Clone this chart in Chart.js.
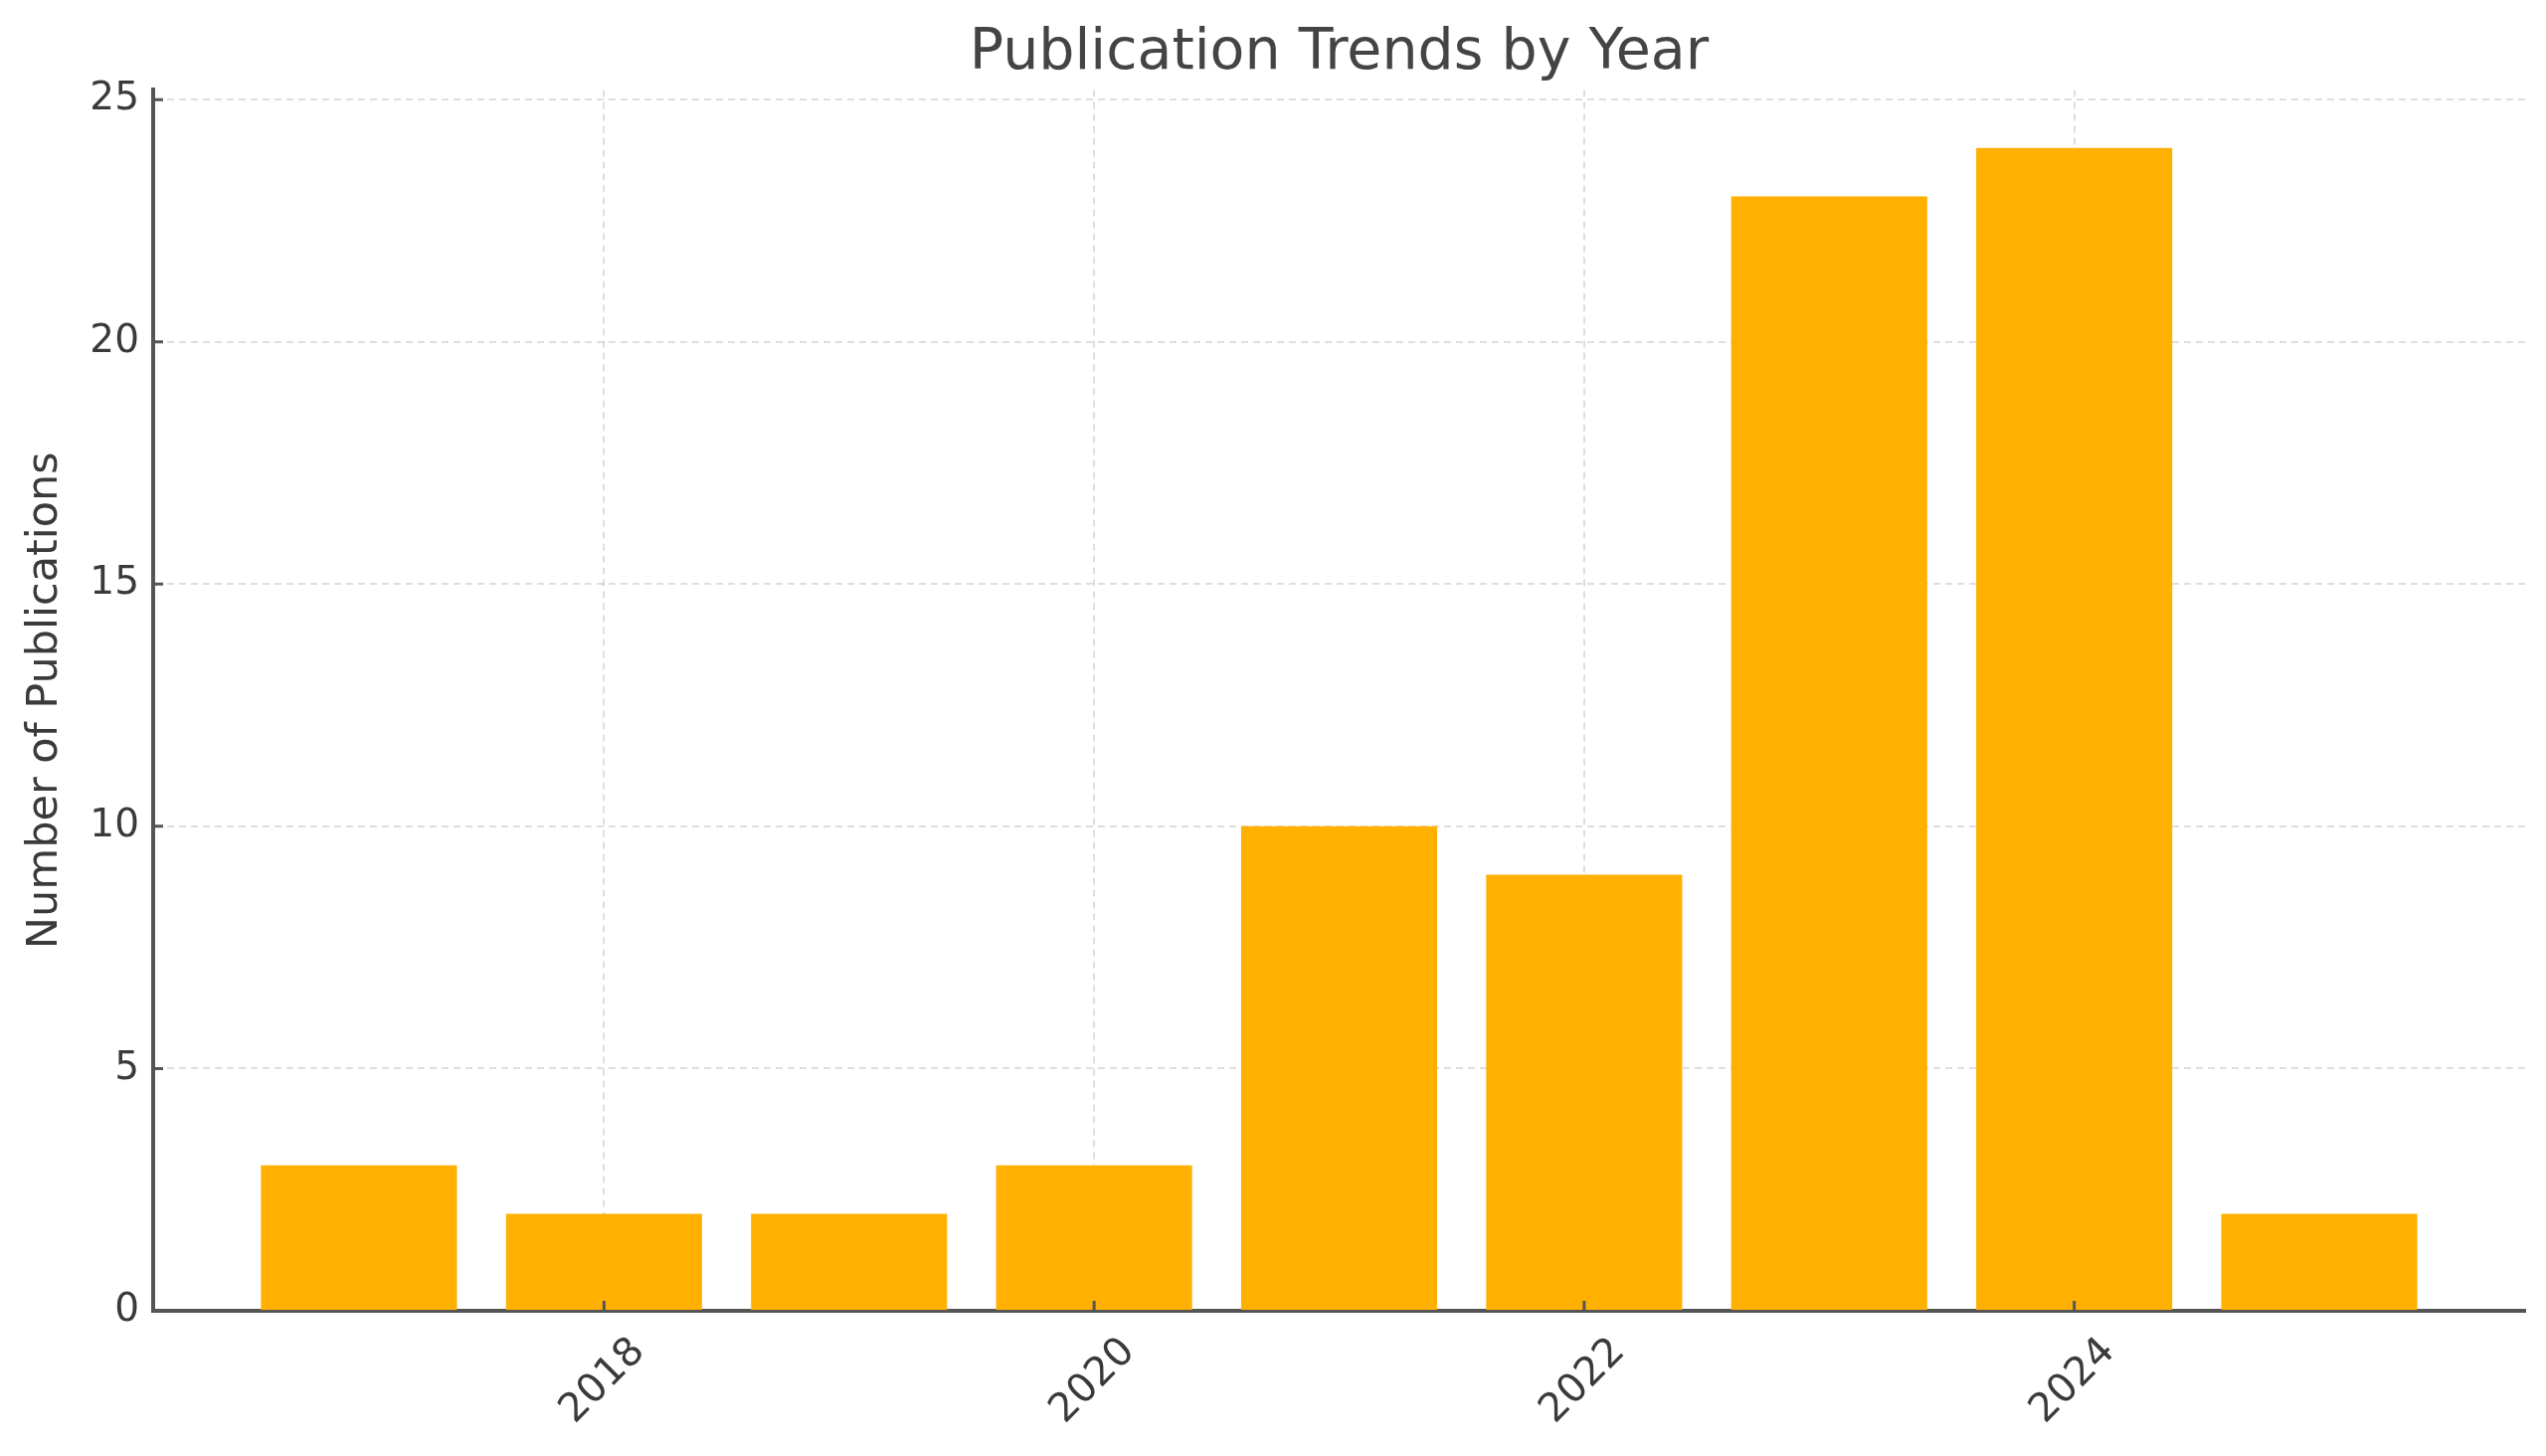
<!DOCTYPE html>
<html>
<head>
<meta charset="utf-8">
<title>Publication Trends by Year</title>
<script src="https://cdn.jsdelivr.net/npm/chart.js@4.4.1/dist/chart.umd.min.js"></script>
<style>
  html, body { margin: 0; padding: 0; background: #fff; }
  #wrap { width: 2560px; height: 1464px; position: relative; }
</style>
</head>
<body>
<div id="wrap"><canvas id="grafico"></canvas></div>
<script>
// datos
const years = [2017, 2018, 2019, 2020, 2021, 2022, 2023, 2024, 2025];
const counts = [3, 2, 2, 3, 10, 9, 23, 24, 2];
const xTicks = [2018, 2020, 2022, 2024];
const yTicks = [0, 5, 10, 15, 20, 25];

const textColor = '#3a3a3a';
const spineColor = '#555555';

// marcas de los ticks hacia dentro, como en matplotlib
const inwardTicks = {
    id: 'inwardTicks',
    afterDraw(chart) {
        const ctx = chart.ctx;
        const xs = chart.scales.x, ys = chart.scales.y;
        const area = chart.chartArea;
        ctx.save();
        ctx.strokeStyle = spineColor;
        ctx.lineWidth = 3;
        ctx.beginPath();
        yTicks.forEach(function(v) {
            const py = ys.getPixelForValue(v);
            ctx.moveTo(area.left, py);
            ctx.lineTo(area.left + 10, py);
        });
        xTicks.forEach(function(v) {
            const px = xs.getPixelForValue(v);
            ctx.moveTo(px, area.bottom);
            ctx.lineTo(px, area.bottom - 10);
        });
        ctx.stroke();
        ctx.restore();
    }
};

const puntos = years.map(function(y, i) { return { x: y, y: counts[i] }; });

const ctx = document.getElementById('grafico').getContext('2d');
const chart = new Chart(ctx, {
    type: 'bar',
    data: {
        datasets: [{
            label: 'Publications',
            data: puntos,
            backgroundColor: '#FFB000',
            borderWidth: 0,
            categoryPercentage: 0.8,
            barPercentage: 1.0
        }]
    },
    options: {
        responsive: true,
        maintainAspectRatio: false,
        devicePixelRatio: 1,
        animation: false,
        layout: { padding: { left: 0, right: 21, top: 0, bottom: 0 } },
        plugins: {
            legend: { display: false },
            tooltip: { enabled: false },
            title: {
                display: true,
                fullSize: false,
                text: 'Publication Trends by Year',
                color: '#444444',
                font: { family: 'DejaVu Sans', size: 57, weight: 'normal' },
                padding: { top: 20, bottom: 2 }
            }
        },
        scales: {
            x: {
                type: 'linear',
                min: 2016.16,
                max: 2025.84,
                offset: false,
                afterBuildTicks: function(scale) {
                    scale.ticks = xTicks.map(function(v) { return { value: v }; });
                },
                afterFit: function(scale) { scale.height = 146; },
                ticks: {
                    autoSkip: false,
                    minRotation: 45,
                    maxRotation: 45,
                    labelOffset: 35,
                    padding: 18,
                    color: textColor,
                    font: { family: 'DejaVu Sans', size: 40 },
                    callback: function(v) { return String(v); }
                },
                grid: {
                    offset: false,
                    color: 'rgba(0,0,0,0.13)',
                    lineWidth: 2,
                    drawTicks: false
                },
                border: { display: true, color: spineColor, width: 4, dash: [7, 5] }
            },
            y: {
                min: 0,
                max: 25.2,
                afterBuildTicks: function(scale) {
                    scale.ticks = yTicks.map(function(v) { return { value: v }; });
                },
                afterFit: function(scale) { scale.width = 154; },
                ticks: {
                    padding: 14,
                    color: textColor,
                    font: { family: 'DejaVu Sans', size: 39 }
                },
                grid: {
                    color: 'rgba(0,0,0,0.13)',
                    lineWidth: 2,
                    drawTicks: false
                },
                border: { display: true, color: spineColor, width: 4, dash: [7, 5] },
                title: {
                    display: true,
                    text: 'Number of Publications',
                    color: textColor,
                    font: { family: 'DejaVu Sans', size: 43 },
                    padding: { top: 20, bottom: 0 }
                }
            }
        }
    },
    plugins: [inwardTicks]
});
</script>
</body>
</html>
